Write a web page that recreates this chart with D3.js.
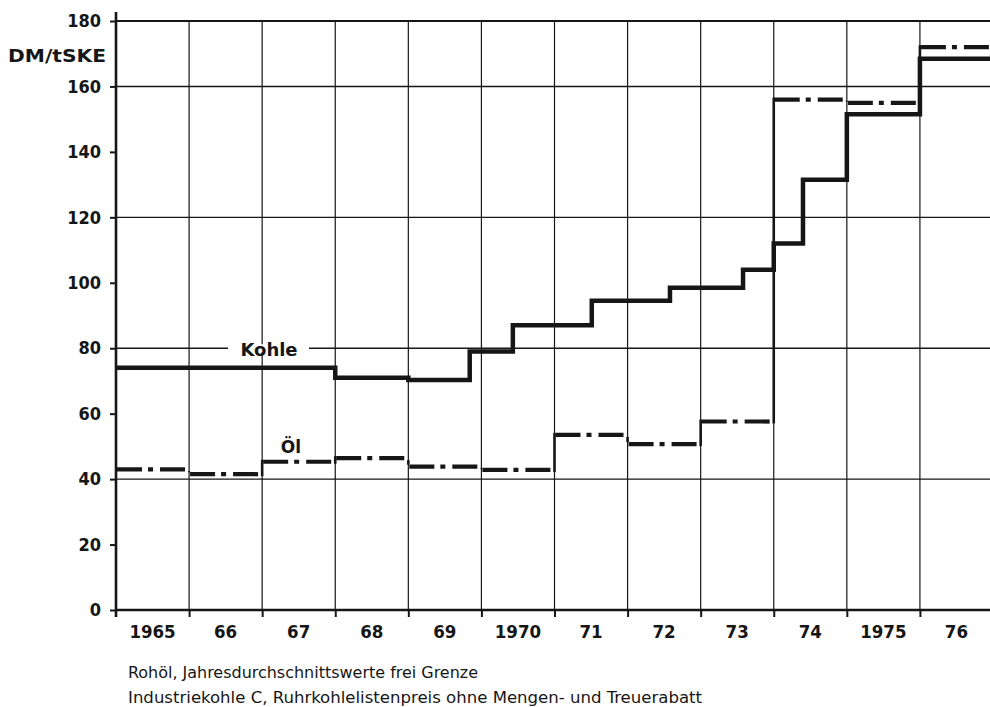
<!DOCTYPE html>
<html>
<head>
<meta charset="utf-8">
<script src="https://cdn.jsdelivr.net/npm/d3@7"></script>
<style>
  html, body { margin: 0; padding: 0; background: #fff; }
  svg { display: block; }
</style>
</head>
<body>
<svg id="chart" width="990" height="707"></svg>
<script>
// ---------------- data ----------------
const yearLabels = ["1965","66","67","68","69","1970","71","72","73","74","1975","76"];
const yearStarts = [1965,1966,1967,1968,1969,1970,1971,1972,1973,1974,1975,1976];
const yTicks = [0,20,40,60,80,100,120,140,160,180];
const yGrid = [40,80,120,160,180];

// Kohle: step start (year, fractional) and level DM/tSKE
const kohleStarts = [1965, 1968, 1969, 1969.84, 1970.43, 1971.51, 1972.58, 1973.58, 1974, 1974.4, 1975, 1976];
const kohleValues = [74, 71, 70.3, 79, 87, 94.5, 98.5, 104, 112, 131.5, 151.5, 168.5];

// Öl: yearly averages
const oelStarts = [1965,1966,1967,1968,1969,1970,1971,1972,1973,1974,1975,1976];
const oelValues = [43, 41.5, 45.3, 46.4, 43.8, 42.8, 53.5, 50.7, 57.6, 156, 155, 172];

const endYear = 1977;
const unitLabel = "DM/tSKE";
const kohleLabel = "Kohle";
const oelLabel = "Öl";
const caption1 = "Rohöl, Jahresdurchschnittswerte frei Grenze";
const caption2 = "Industriekohle C, Ruhrkohlelistenpreis ohne Mengen- und Treuerabatt";

// ---------------- layout ----------------
const ink = "#161616";
const svg = d3.select("#chart");
const x = d3.scaleLinear().domain([1965, 1977]).range([116, 993]);
const y = d3.scaleLinear().domain([0, 180]).range([610, 21]);
const condensed = "'DejaVu Sans Condensed','Liberation Sans Narrow','DejaVu Sans',sans-serif";

// grid: horizontal
svg.append("g").selectAll("line").data(yGrid).join("line")
  .attr("x1", x(1965)).attr("x2", 990)
  .attr("y1", d => y(d)).attr("y2", d => y(d))
  .attr("stroke", ink).attr("stroke-width", d => d === 180 ? 1.8 : 1.4);

// grid: vertical at year boundaries
svg.append("g").selectAll("line").data(yearStarts.slice(1)).join("line")
  .attr("x1", d => x(d)).attr("x2", d => x(d))
  .attr("y1", y(180)).attr("y2", y(0))
  .attr("stroke", ink).attr("stroke-width", 1.2);

// label "Kohle" on the 80 line with white knock-out
const kx = 269, ky = y(80);
svg.append("rect").attr("x", 228).attr("y", ky - 4).attr("width", 81).attr("height", 8).attr("fill", "#fff");
svg.append("text").attr("x", kx).attr("y", ky + 8)
  .attr("text-anchor", "middle")
  .attr("font-family", "'DejaVu Sans',sans-serif").attr("font-weight", "bold").attr("font-size", 18)
  .attr("fill", ink).text(kohleLabel);

// y axis
const yAxis = d3.axisLeft(y).tickValues(yTicks).tickSize(6).tickSizeOuter(0).tickPadding(9);
const gy = svg.append("g").attr("transform", `translate(${x(1965)},0)`).call(yAxis);
gy.select(".domain").remove();
gy.selectAll(".tick line").attr("stroke", ink).attr("stroke-width", 2);
gy.selectAll(".tick text").attr("font-family", condensed).attr("font-weight", "bold")
  .attr("font-size", 18).attr("fill", ink);
svg.append("line").attr("x1", x(1965)).attr("x2", x(1965)).attr("y1", 12).attr("y2", 617)
  .attr("stroke", ink).attr("stroke-width", 2.6);

// x axis
const xAxis = d3.axisBottom(x).tickValues(yearStarts.slice(1)).tickSize(7).tickSizeOuter(0).tickFormat("");
const gx = svg.append("g").attr("transform", `translate(0,${y(0)})`).call(xAxis);
gx.select(".domain").remove();
gx.selectAll(".tick line").attr("stroke", ink).attr("stroke-width", 2);
svg.append("line").attr("x1", x(1965)).attr("x2", 990).attr("y1", y(0)).attr("y2", y(0))
  .attr("stroke", ink).attr("stroke-width", 2.6);

// year labels centered in intervals
svg.append("g").selectAll("text").data(yearStarts).join("text")
  .attr("x", (d) => x(d + 0.5))
  .attr("y", 638)
  .attr("text-anchor", "middle")
  .attr("font-family", condensed).attr("font-weight", "bold").attr("font-size", 18.5)
  .attr("fill", ink)
  .text((d, i) => yearLabels[i]);

// unit label
svg.append("text").attr("x", 8).attr("y", 62)
  .attr("textLength", 98).attr("lengthAdjust", "spacingAndGlyphs")
  .attr("font-family", "'DejaVu Sans',sans-serif").attr("font-weight", "bold").attr("font-size", 17)
  .attr("fill", ink).text(unitLabel);

// Kohle step line
const kohlePts = kohleStarts.map((s, i) => [s, kohleValues[i]]);
kohlePts.push([endYear, kohleValues[kohleValues.length - 1]]);
const stepLine = d3.line().x(d => x(d[0])).y(d => y(d[1])).curve(d3.curveStepAfter);
svg.append("path").datum(kohlePts).attr("d", stepLine)
  .attr("fill", "none").attr("stroke", ink).attr("stroke-width", 4.5)
  .attr("stroke-linejoin", "miter");

// Öl: dash-dot horizontal segments, solid risers
const oelSegs = oelStarts.map((s, i) => ({ x0: s, x1: i < oelStarts.length - 1 ? oelStarts[i + 1] : endYear, v: oelValues[i] }));
svg.append("g").selectAll("line").data(oelSegs).join("line")
  .attr("x1", d => x(d.x0) + 1).attr("x2", d => x(d.x1))
  .attr("y1", d => y(d.v)).attr("y2", d => y(d.v))
  .attr("stroke", ink).attr("stroke-width", 4.2)
  .attr("stroke-dasharray", "25,6,5,7");
svg.append("g").selectAll("line").data(oelSegs.slice(1)).join("line")
  .attr("x1", (d) => x(d.x0)).attr("x2", (d) => x(d.x0))
  .attr("y1", (d, i) => y(oelSegs[i].v) + 2).attr("y2", d => y(d.v) - 2)
  .attr("stroke", ink).attr("stroke-width", 2.6);

// Öl label
svg.append("text").attr("x", 291).attr("y", 453)
  .attr("text-anchor", "middle")
  .attr("font-family", "'DejaVu Sans',sans-serif").attr("font-weight", "bold").attr("font-size", 17)
  .attr("fill", ink).text(oelLabel);

// captions
svg.append("text").attr("x", 128).attr("y", 678)
  .attr("textLength", 350).attr("lengthAdjust", "spacingAndGlyphs")
  .attr("font-family", condensed).attr("font-size", 16).attr("fill", ink).text(caption1);
svg.append("text").attr("x", 128).attr("y", 703)
  .attr("textLength", 574).attr("lengthAdjust", "spacingAndGlyphs")
  .attr("font-family", condensed).attr("font-size", 16).attr("fill", ink).text(caption2);
</script>
</body>
</html>
